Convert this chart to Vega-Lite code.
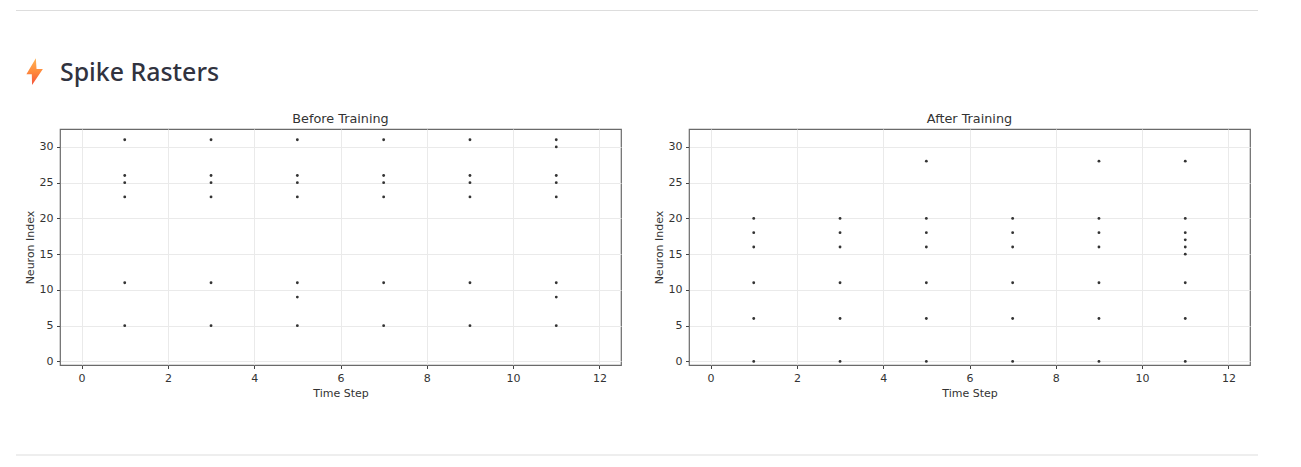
{
"$schema":"https://vega.github.io/schema/vega-lite/v6.json",
"background":"white",
"padding":{"left":15,"top":10,"right":0,"bottom":10},
"spacing":0,
"bounds":"full",
"config":{"view":{"stroke":null},"concat":{"spacing":30},"font":"DejaVu Sans",
"axis":{"grid":true,"gridColor":"#eaeaea","gridWidth":1,"domain":false,"tickColor":"#444444","tickSize":3.5,"tickWidth":1,"labelColor":"#333333","titleColor":"#333333","labelFont":"DejaVu Sans","titleFont":"DejaVu Sans","labelFontSize":11,"titleFontSize":11,"titleFontWeight":"normal","labelPadding":3.5,"titlePadding":4},
"title":{"font":"DejaVu Sans","fontSize":12.8,"fontWeight":"normal","color":"#333333","offset":3}},
"vconcat":[
{"width":1138,"height":101.5,
"data":{"values":[{"label":"Spike Rasters"}]},
"layer":[
{"mark":{"type":"rule","color":"#dddddd","strokeWidth":1},
 "encoding":{"x":{"datum":-44,"type":"quantitative","scale":{"domain":[0,1138]},"axis":null},"x2":{"datum":1198},"y":{"datum":0.5,"type":"quantitative","scale":{"domain":[0,101.5],"reverse":true},"axis":null}}},
{"mark":{"type":"text","align":"left","baseline":"alphabetic","font":"Noto Sans","fontSize":24.9,"fontWeight":500,"color":"#31333F"},
 "encoding":{"x":{"datum":0,"type":"quantitative","scale":{"domain":[0,1138]},"axis":null},"y":{"datum":71,"type":"quantitative","scale":{"domain":[0,101.5],"reverse":true},"axis":null},"text":{"field":"label"}}},
{"mark":{"type":"point","filled":true,"size":729,"opacity":1,"strokeWidth":0,"shape":"M0.1,-0.98L-0.6,0.2L-0.2,0.2L-0.18,1L0.62,-0.18L0.15,-0.18Z","fill":{"gradient":"linear","x1":0,"y1":0,"x2":0,"y2":1,"stops":[{"offset":0,"color":"#FFB454"},{"offset":0.5,"color":"#FF8A3C"},{"offset":1,"color":"#F4523B"}]}},
 "encoding":{"x":{"datum":-25.5,"type":"quantitative","scale":{"domain":[0,1138]},"axis":null},"y":{"datum":61.5,"type":"quantitative","scale":{"domain":[0,101.5],"reverse":true},"axis":null}}}
]},
{"hconcat":[
{"title":"Before Training","width":561,"height":236,"view":{"stroke":"#6a6a6a","strokeWidth":1.2},
"data":{"values":[
{"t":1,"n":31},{"t":1,"n":26},{"t":1,"n":25},{"t":1,"n":23},{"t":1,"n":11},{"t":1,"n":5},
{"t":3,"n":31},{"t":3,"n":26},{"t":3,"n":25},{"t":3,"n":23},{"t":3,"n":11},{"t":3,"n":5},
{"t":5,"n":31},{"t":5,"n":26},{"t":5,"n":25},{"t":5,"n":23},{"t":5,"n":11},{"t":5,"n":9},{"t":5,"n":5},
{"t":7,"n":31},{"t":7,"n":26},{"t":7,"n":25},{"t":7,"n":23},{"t":7,"n":11},{"t":7,"n":5},
{"t":9,"n":31},{"t":9,"n":26},{"t":9,"n":25},{"t":9,"n":23},{"t":9,"n":11},{"t":9,"n":5},
{"t":11,"n":31},{"t":11,"n":30},{"t":11,"n":26},{"t":11,"n":25},{"t":11,"n":23},{"t":11,"n":11},{"t":11,"n":9},{"t":11,"n":5}
]},
"mark":{"type":"point","filled":true,"size":8,"color":"#333333","opacity":1},
"encoding":{"x":{"field":"t","type":"quantitative","title":"Time Step","scale":{"domain":[-0.5,12.5],"nice":false,"zero":false},"axis":{"values":[0,2,4,6,8,10,12],"format":"d"}},
"y":{"field":"n","type":"quantitative","title":"Neuron Index","scale":{"domain":[-0.5,32.5],"nice":false,"zero":false},"axis":{"values":[0,5,10,15,20,25,30],"format":"d"}}}},
{"title":"After Training","width":561,"height":236,"view":{"stroke":"#6a6a6a","strokeWidth":1.2},
"data":{"values":[
{"t":1,"n":20},{"t":1,"n":18},{"t":1,"n":16},{"t":1,"n":11},{"t":1,"n":6},{"t":1,"n":0},
{"t":3,"n":20},{"t":3,"n":18},{"t":3,"n":16},{"t":3,"n":11},{"t":3,"n":6},{"t":3,"n":0},
{"t":5,"n":28},{"t":5,"n":20},{"t":5,"n":18},{"t":5,"n":16},{"t":5,"n":11},{"t":5,"n":6},{"t":5,"n":0},
{"t":7,"n":20},{"t":7,"n":18},{"t":7,"n":16},{"t":7,"n":11},{"t":7,"n":6},{"t":7,"n":0},
{"t":9,"n":28},{"t":9,"n":20},{"t":9,"n":18},{"t":9,"n":16},{"t":9,"n":11},{"t":9,"n":6},{"t":9,"n":0},
{"t":11,"n":28},{"t":11,"n":20},{"t":11,"n":18},{"t":11,"n":17},{"t":11,"n":16},{"t":11,"n":15},{"t":11,"n":11},{"t":11,"n":6},{"t":11,"n":0}
]},
"mark":{"type":"point","filled":true,"size":8,"color":"#333333","opacity":1},
"encoding":{"x":{"field":"t","type":"quantitative","title":"Time Step","scale":{"domain":[-0.5,12.5],"nice":false,"zero":false},"axis":{"values":[0,2,4,6,8,10,12],"format":"d"}},
"y":{"field":"n","type":"quantitative","title":"Neuron Index","scale":{"domain":[-0.5,32.5],"nice":false,"zero":false},"axis":{"values":[0,5,10,15,20,25,30],"format":"d"}}}}
]},
{"width":1138,"height":56,
"mark":{"type":"rule","color":"#dddddd","strokeWidth":1},
"data":{"values":[{"label":"end"}]},
"encoding":{"x":{"datum":-44,"type":"quantitative","scale":{"domain":[0,1138]},"axis":null},"x2":{"datum":1198},"y":{"datum":56,"type":"quantitative","scale":{"domain":[0,56],"reverse":true},"axis":null}}}
]
}
